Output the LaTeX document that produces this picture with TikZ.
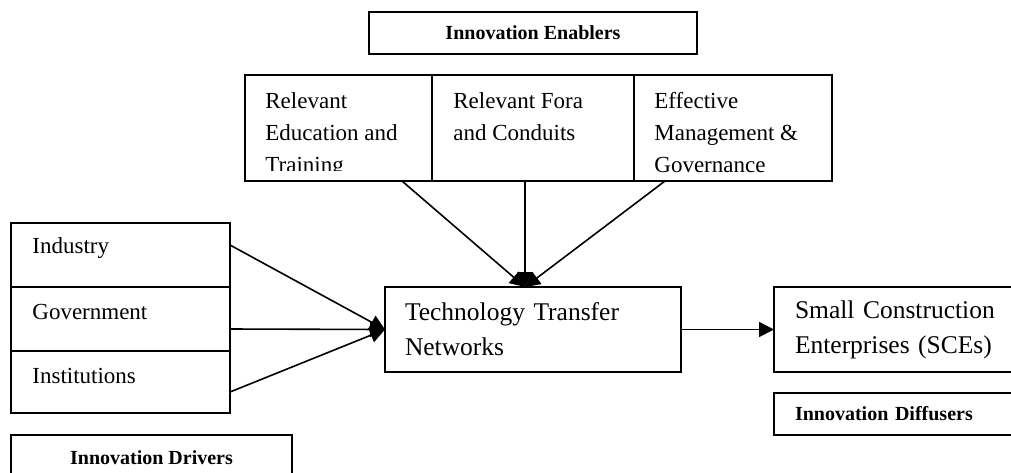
\documentclass[tikz,border=0pt]{standalone}
\usepackage{fontspec}
\setmainfont{Liberation Serif}
\usetikzlibrary{arrows.meta}

\begin{document}
\begin{tikzpicture}[x=0.5pt,y=-0.5pt,
  box/.style={draw,line width=0.9pt,inner sep=0pt,outer sep=0pt,anchor=north west},
  txt/.style={inner sep=0pt,anchor=north west,align=left,font=\fontsize{11.5}{16}\selectfont},
  head/.style={font=\fontsize{10}{12}\selectfont\bfseries},
  big/.style={align=left,font=\fontsize{12.75}{17.5}\selectfont},
  arr/.style={line width=0.8pt,-{Triangle[length=7.5pt,width=7.5pt]}}]
\useasboundingbox (0,0) rectangle (1011,472);
\clip (0,0) rectangle (1011,472);
% enablers
\node[box,head,minimum width=164pt,minimum height=21pt] (enab) at (369,12) {Innovation Enablers};
\node[box,minimum width=93.5pt,minimum height=53pt] (edu) at (245,75) {};
\node[box,minimum width=101pt,minimum height=53pt] (fora) at (432,75) {};
\node[box,minimum width=99pt,minimum height=53pt] (mgmt) at (634,75) {};
\begin{scope}
\clip (245,75) rectangle (432,170);
\node[txt] (edut) at ([shift={(20,17)}]edu.north west) {Relevant\\Education and\\Training};
\end{scope}
\node[txt] (forat) at ([shift={(21,17)}]fora.north west) {Relevant Fora\\and Conduits};
\node[txt] (mgmtt) at ([shift={(20,17)}]mgmt.north west) {Effective\\Management \&\\Governance};
% drivers
\node[box,minimum width=109.5pt,minimum height=32pt] (ind) at (11,223) {};
\node[box,minimum width=109.5pt,minimum height=32pt] (govt) at (11,287) {};
\node[box,minimum width=109.5pt,minimum height=31pt] (inst) at (11,351) {};
\node[txt,anchor=west] (indt) at (32,248) {Industry};
\node[txt,anchor=west] (govtt) at (32,312) {Government};
\node[txt,anchor=west] (instt) at (32,376) {Institutions};
\node[box,head,minimum width=140.5pt,minimum height=23pt] (drv) at (11,435) {Innovation Drivers};
% networks and diffusers
\node[box,big,text width=128pt,inner xsep=10pt,minimum height=42.5pt] (ttn) at (385,287) {Technology Transfer\\Networks};
\node[box,big,text width=120pt,inner xsep=10.5pt,minimum height=42.5pt] (sce) at (774,287) {Small Construction\\Enterprises (SCEs)};
\node[box,head,align=left,text width=120pt,inner xsep=10.5pt,minimum height=21pt] (dif) at (774,393) {Innovation Diffusers};
% arrows
\draw[arr] ([shift={(0,-10)}]ind.east) -- (ttn.west);
\draw[arr] ([shift={(0,10)}]govt.east) -- (ttn.west);
\draw[arr] ([shift={(0,10)}]inst.east) -- (ttn.west);
\draw[arr] ([shift={(-30,0)}]edu.south east) -- ([shift={(-8,0)}]ttn.north);
\draw[arr] ([shift={(-8,0)}]fora.south) -- ([shift={(-8,0)}]ttn.north);
\draw[arr] ([shift={(31,0)}]mgmt.south west) -- ([shift={(-8,0)}]ttn.north);
\draw[arr] (ttn.east) -- (sce.west);
\end{tikzpicture}
\end{document}
